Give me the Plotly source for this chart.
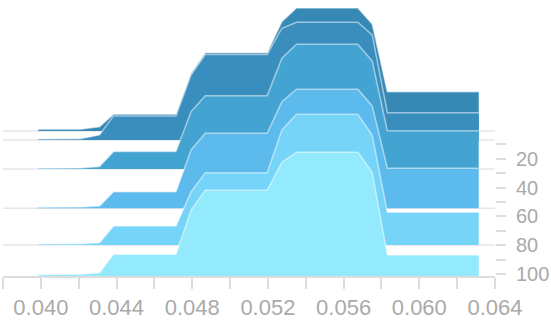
import plotly.graph_objects as go

# x positions of the ridge profile points
x_vals = [0.03987, 0.04208, 0.0431, 0.04384, 0.04714, 0.04794, 0.04869,
          0.05196, 0.05274, 0.05351, 0.05675, 0.05751, 0.05831, 0.06314]

# baseline of each ridge on the (reversed) y axis
baselines = [0.8, 7.0, 27.1, 54.4, 79.9, 101.4]

# ridge heights (same units as the y axis)
h1 = [1.2, 1.2, 3.0, 11.6, 11.6, 40.0, 54.3, 54.3, 75.9, 85.4, 85.4, 74.3, 27.3, 27.3]
h2 = [0.7, 0.9, 3.5, 16.7, 16.7, 45.1, 59.3, 59.3, 77.5, 81.7, 81.7, 72.9, 18.9, 18.9]
h3 = [0.5, 0.7, 1.6, 12.0, 12.0, 39.8, 50.7, 50.7, 76.8, 86.5, 86.5, 74.9, 26.4, 26.4]
h4 = [0.7, 0.9, 1.6, 11.5, 11.5, 40.5, 52.0, 52.0, 74.0, 82.6, 82.6, 71.0, 27.8, 27.8]
h5 = [0.7, 0.9, 1.6, 13.2, 13.2, 37.0, 50.2, 50.2, 79.8, 90.7, 90.7, 76.3, 22.7, 22.7]
h6 = [1.0, 1.2, 2.3, 15.1, 15.1, 45.8, 59.5, 59.5, 78.9, 85.8, 85.8, 72.0, 14.6, 14.6]
heights = [h1, h2, h3, h4, h5, h6]

colors = ["#3688b5", "#3a8ebe", "#43a3d1", "#5dbaec", "#76d4f8", "#92eafc"]

y_ticks = [20, 40, 60, 80, 100]
y_minor = [10, 30, 50, 70, 90]

label_font = dict(family="Liberation Sans, Arial, sans-serif", color="#aaaaaa")

fig = go.Figure()

# ridges, back to front
for base, h, c in zip(baselines, heights, colors):
    fig.add_trace(go.Scatter(
        x=x_vals, y=[base] * len(x_vals),
        mode="lines", line=dict(width=0, color=c),
        showlegend=False, hoverinfo="skip",
    ))
    fig.add_trace(go.Scatter(
        x=x_vals, y=[base - v for v in h],
        mode="lines", fill="tonexty", fillcolor=c,
        line=dict(color="rgba(255,255,255,0.5)", width=1.5),
        showlegend=False,
    ))

# light baseline rules across the plot
for base in baselines[:-1]:
    fig.add_shape(
        type="line", xref="paper", x0=0, x1=1, y0=base, y1=base,
        line=dict(color="#e6e6e6", width=1.5), layer="below",
    )

fig.update_layout(
    width=551, height=320,
    margin=dict(l=3, r=56, t=0, b=44),
    plot_bgcolor="white", paper_bgcolor="white",
    showlegend=False,
    xaxis=dict(
        range=[0.038, 0.064],
        tick0=0.040, dtick=0.004, tickformat=".3f",
        showgrid=False, zeroline=False,
        showline=True, linecolor="#dddddd", linewidth=1.5,
        ticks="outside", ticklen=11, tickcolor="#dddddd", tickwidth=1.5,
        minor=dict(dtick=0.002, tick0=0.038, ticks="outside", ticklen=11,
                   tickcolor="#dddddd", tickwidth=1.5, showgrid=False),
        tickfont=dict(size=22, **label_font),
    ),
    yaxis=dict(
        range=[101.4, -90.1],
        side="right",
        tickmode="array", tickvals=y_ticks,
        showgrid=False, zeroline=False, showline=False,
        ticks="outside", ticklen=10, tickcolor="#dddddd", tickwidth=1.5,
        minor=dict(tickmode="array", tickvals=y_minor, ticks="outside",
                   ticklen=10, tickcolor="#dddddd", tickwidth=1.5,
                   showgrid=False),
        ticklabelstandoff=6,
        tickfont=dict(size=20, **label_font),
    ),
)

# page body has a default 8px margin; drop it so the figure fills the window
fig.write_html(
    "out.html",
    config={"displayModeBar": False},
    post_script="document.body.style.margin='0';",
)
